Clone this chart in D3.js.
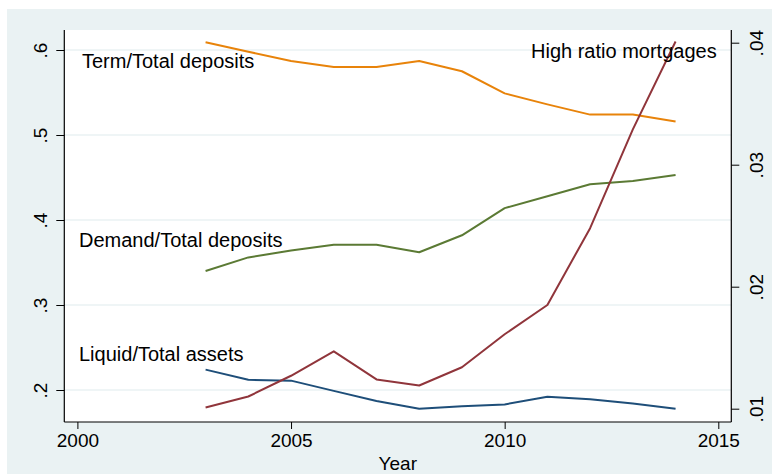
<!DOCTYPE html>
<html><head><meta charset="utf-8">
<script src="https://cdn.jsdelivr.net/npm/d3@7"></script>
<style>body{margin:0;background:#fff}svg{display:block}text{font-family:"Liberation Sans",Arial,sans-serif;fill:#000}</style>
</head><body><svg id="c" width="772" height="474"></svg>
<script>
const years = [2003,2004,2005,2006,2007,2008,2009,2010,2011,2012,2013,2014];
const termTotal = [0.609,0.598,0.587,0.580,0.580,0.587,0.575,0.549,0.536,0.524,0.524,0.516];
const demandTotal = [0.340,0.356,0.364,0.371,0.371,0.362,0.382,0.414,0.428,0.442,0.446,0.453];
const liquidTotal = [0.224,0.212,0.211,0.199,0.187,0.178,0.181,0.183,0.192,0.189,0.184,0.178];
const highRatio = [0.0101,0.0110,0.0127,0.0147,0.0124,0.0119,0.0134,0.0161,0.0185,0.0248,0.0329,0.0401];
const xTicks = [2000,2005,2010,2015];
const yLeftTicks = [0.2,0.3,0.4,0.5,0.6];
const yRightTicks = [0.01,0.02,0.03,0.04];
const seriesLabels = ["Term/Total deposits","Demand/Total deposits","Liquid/Total assets","High ratio mortgages"];

const svg = d3.select("#c");
svg.append("rect").attr("x",7).attr("y",9).attr("width",765).attr("height",465).attr("fill","#eaf2f3");
const L=64.3, R=731.3, T=30, B=422;
svg.append("rect").attr("x",L).attr("y",T).attr("width",R-L).attr("height",B-T).attr("fill","#fff");

const x = d3.scaleLinear().domain([2000,2015]).range([77.4,718.3]);
const yL = d3.scaleLinear().domain([0.2,0.6]).range([390,50]);
const yR = d3.scaleLinear().domain([0.01,0.04]).range([408.7,42.7]);

// grid
svg.append("g").selectAll("line").data(yLeftTicks).join("line")
  .attr("x1",L).attr("x2",R).attr("y1",d=>yL(d)).attr("y2",d=>yL(d))
  .attr("stroke","#eaf2f3").attr("stroke-width",1.5);

// left axis
const gl = svg.append("g").attr("transform",`translate(${L},0)`)
  .call(d3.axisLeft(yL).tickValues(yLeftTicks).tickSize(8).tickFormat(d=>String(+d.toFixed(1)).replace(/^0/,"")));
gl.select(".domain").attr("d",`M0,${T}V${B}`).attr("stroke","#000").attr("stroke-width",1.2);
gl.selectAll(".tick line").attr("stroke","#000");
gl.selectAll(".tick text").attr("font-size",19).attr("x",0).attr("y",0).attr("dy","0.35em")
  .attr("text-anchor","middle").attr("transform","translate(-24,0) rotate(-90)");

// right axis
const gr = svg.append("g").attr("transform",`translate(${R},0)`)
  .call(d3.axisRight(yR).tickValues(yRightTicks).tickSize(8).tickFormat(d=>String(+d.toFixed(2)).replace(/^0/,"")));
gr.select(".domain").attr("d",`M0,${T}V${B}`).attr("stroke","#000").attr("stroke-width",1.2);
gr.selectAll(".tick line").attr("stroke","#000");
gr.selectAll(".tick text").attr("font-size",19).attr("x",0).attr("y",0).attr("dy","0.35em")
  .attr("text-anchor","middle").attr("transform","translate(25,0) rotate(-90)");

// bottom axis
const gb = svg.append("g").attr("transform",`translate(0,${B})`)
  .call(d3.axisBottom(x).tickValues(xTicks).tickSize(7).tickFormat(d3.format("d")));
gb.select(".domain").attr("d",`M${L},0H${R}`).attr("stroke","#000").attr("stroke-width",1.2);
gb.selectAll(".tick line").attr("stroke","#000");
gb.selectAll(".tick text").attr("font-size",19).attr("y",12).attr("dy","0.71em");
svg.selectAll(".tick text").attr("fill","#000").attr("font-family","'Liberation Sans',Arial,sans-serif");

svg.append("text").attr("x",(L+R)/2).attr("y",470).attr("text-anchor","middle").attr("font-size",19).text("Year");

// lines
const lineL = d3.line().x((d,i)=>x(years[i])).y(d=>yL(d));
const lineR = d3.line().x((d,i)=>x(years[i])).y(d=>yR(d));
const draw = (data,gen,color) => svg.append("path").datum(data).attr("d",gen)
  .attr("fill","none").attr("stroke",color).attr("stroke-width",2).attr("stroke-linejoin","round");
draw(termTotal,lineL,"#e8830a");
draw(demandTotal,lineL,"#5b7a34");
draw(liquidTotal,lineL,"#1e4e79");
draw(highRatio,lineR,"#90353b");

// labels
const labelPos = [[82,68],[79,247],[79,361],[531,58]];
svg.append("g").selectAll("text").data(seriesLabels).join("text")
  .attr("x",(d,i)=>labelPos[i][0]).attr("y",(d,i)=>labelPos[i][1])
  .attr("font-size",20).text(d=>d);
</script></body></html>
